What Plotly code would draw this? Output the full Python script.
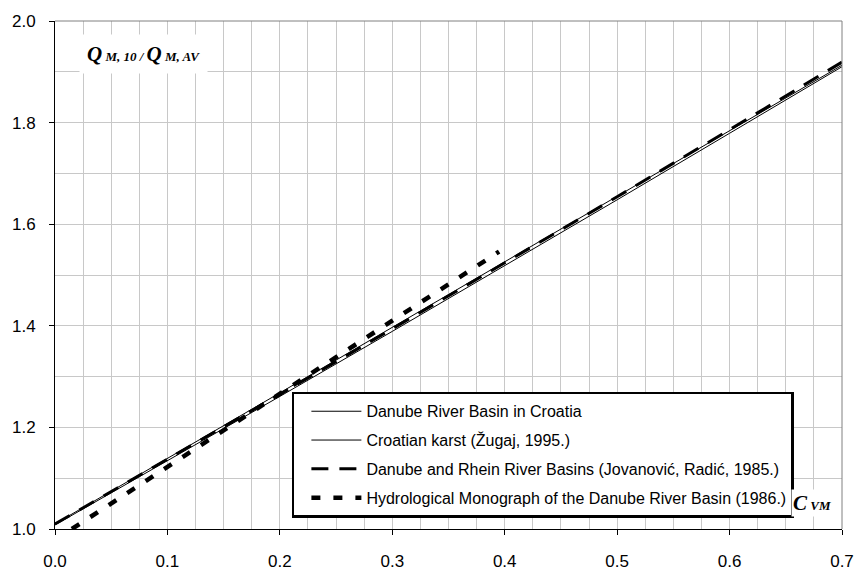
import plotly.graph_objects as go

# ---- data ----
cv = [0.0, 0.1, 0.2, 0.3, 0.4, 0.5, 0.6, 0.7]
danube_croatia = [1.010, 1.139, 1.268, 1.397, 1.526, 1.655, 1.784, 1.913]
croatian_karst = [1.008, 1.134, 1.261, 1.389, 1.518, 1.648, 1.779, 1.910]
danube_rhein = [1.010, 1.137, 1.265, 1.394, 1.524, 1.654, 1.786, 1.919]
cv_mono = [0.015, 0.1, 0.2, 0.3, 0.395]
hydro_mono = [1.000, 1.123, 1.266, 1.410, 1.546]

names = [
    "Danube River Basin in Croatia",
    "Croatian karst (Žugaj, 1995.)",
    "Danube and Rhein River Basins (Jovanović, Radić, 1985.)",
    "Hydrological Monograph of the Danube River Basin (1986.)",
]

x_ticks = [0.0, 0.1, 0.2, 0.3, 0.4, 0.5, 0.6, 0.7]
y_ticks = [1.0, 1.2, 1.4, 1.6, 1.8, 2.0]

fig = go.Figure()
fig.add_trace(go.Scatter(x=cv, y=danube_croatia, mode="lines", name=names[0],
                         legendgroup="a", line=dict(color="black", width=1)))
fig.add_trace(go.Scatter(x=cv, y=croatian_karst, mode="lines", name=names[1],
                         legendgroup="b", line=dict(color="black", width=1)))
fig.add_trace(go.Scatter(x=cv, y=danube_rhein, mode="lines", name=names[2],
                         legendgroup="c", line=dict(color="black", width=3, dash="17px,11px")))
fig.add_trace(go.Scatter(x=cv_mono, y=hydro_mono, mode="lines", name=names[3],
                         legendgroup="d", line=dict(color="black", width=4.5, dash="9px,13px")))

grid_col = "#c8c8c8"
fig.update_xaxes(
    range=[0, 0.7], tickvals=x_ticks, tickformat=".1f",
    showline=True, linecolor="black", linewidth=1,
    ticks="outside", ticklen=5, tickcolor="black",
    showgrid=True, gridcolor=grid_col, gridwidth=1,
    minor=dict(dtick=0.025, tick0=0, showgrid=True, gridcolor=grid_col, gridwidth=1, ticks=""),
    zeroline=False, ticklabelstandoff=12,
    tickfont=dict(family="Liberation Sans, Arial", size=17, color="black"),
)
fig.update_yaxes(
    range=[1.0, 2.0], tickvals=y_ticks, tickformat=".1f",
    showline=True, linecolor="black", linewidth=1,
    ticks="outside", ticklen=5, tickcolor="black",
    showgrid=True, gridcolor=grid_col, gridwidth=1,
    minor=dict(dtick=0.1, tick0=1.0, showgrid=True, gridcolor=grid_col, gridwidth=1, ticks=""),
    zeroline=False, ticklabelstandoff=10,
    tickfont=dict(family="Liberation Sans, Arial", size=17, color="black"),
)

serif = "Liberation Serif, Times New Roman"
q_text = ('<b><i>Q</i></b><span style="font-size:13px"><b><i> M, 10 / </i></b></span>'
          '<b><i>Q</i></b><span style="font-size:13px"><b><i> M, AV</i></b></span>')
c_text = '<b><i>C</i></b><span style="font-size:13px"><b><i> VM</i></b></span>'

fig.update_layout(
    width=866, height=583,
    margin=dict(l=51, r=15, t=21, b=35),
    paper_bgcolor="white", plot_bgcolor="white",
    showlegend=True,
    legend=dict(
        x=0.301, y=0.27, xanchor="left", yanchor="top",
        bgcolor="white", bordercolor="black", borderwidth=2.5,
        font=dict(family="Liberation Sans, Arial", size=16, color="black"),
        traceorder="grouped", tracegroupgap=5,
        itemwidth=50, indentation=12,
    ),
    annotations=[
        dict(xref="paper", yref="paper", x=0.1125, y=0.935, xanchor="center", yanchor="middle",
             text=q_text, showarrow=False,
             font=dict(family=serif, size=21, color="black"), bgcolor="white", borderpad=7),
        dict(xref="paper", yref="paper", x=0.962, y=0.052, xanchor="center", yanchor="middle",
             text=c_text, showarrow=False,
             font=dict(family=serif, size=21, color="black"), bgcolor="white", borderpad=1),
    ],
    shapes=[
        dict(type="line", xref="paper", yref="paper", x0=0, x1=1, y0=1, y1=1,
             line=dict(color="#808080", width=1)),
        dict(type="line", xref="paper", yref="paper", x0=1, x1=1, y0=0, y1=1,
             line=dict(color="#808080", width=1)),
    ],
)

fig.write_html("out.html")
